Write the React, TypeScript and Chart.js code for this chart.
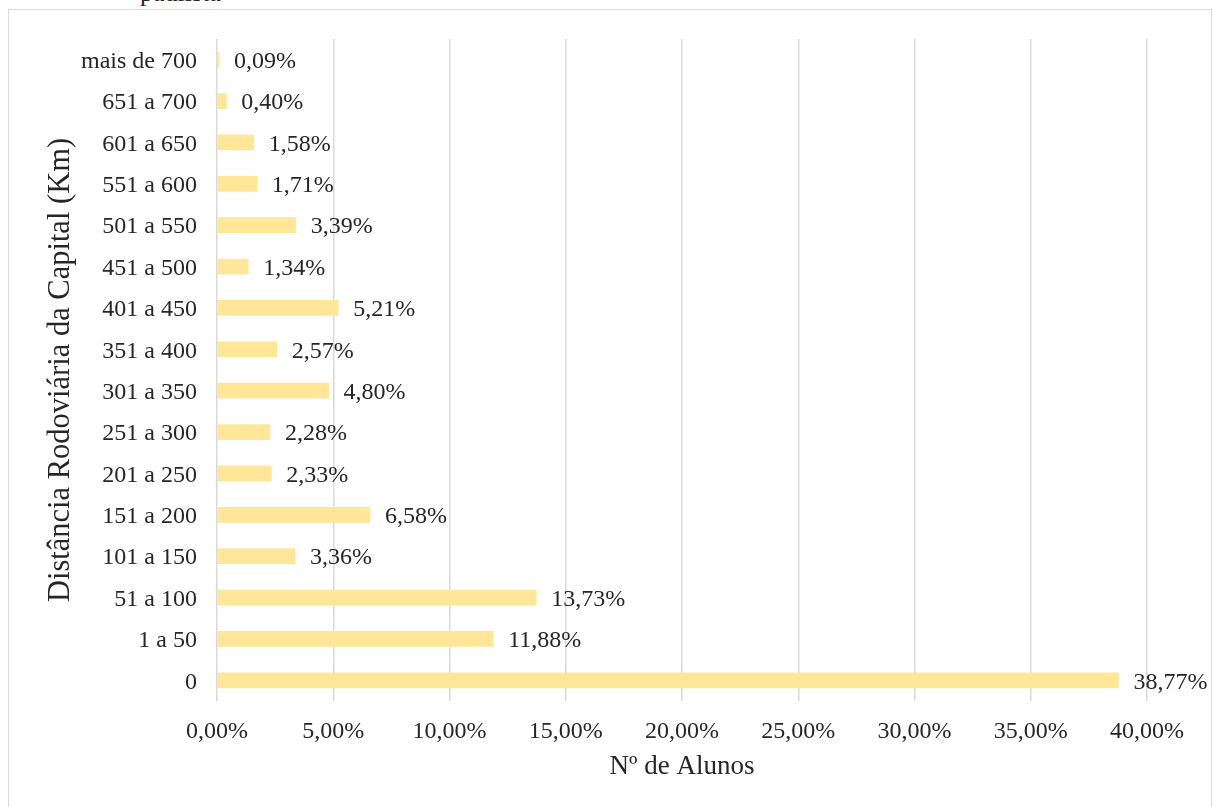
import React, { useEffect, useRef } from "react";
import { Chart, registerables } from "chart.js";

Chart.register(...registerables);

const categories: string[] = [
  "0",
  "1 a 50",
  "51 a 100",
  "101 a 150",
  "151 a 200",
  "201 a 250",
  "251 a 300",
  "301 a 350",
  "351 a 400",
  "401 a 450",
  "451 a 500",
  "501 a 550",
  "551 a 600",
  "601 a 650",
  "651 a 700",
  "mais de 700",
];

const percentAlunos: number[] = [
  38.77, 11.88, 13.73, 3.36, 6.58, 2.33, 2.28, 4.8, 2.57, 5.21, 1.34, 3.39, 1.71, 1.58, 0.4, 0.09,
];

const xTickMin = 0;
const xTickMax = 40;
const xTickStep = 5;

const xTitle = "Nº de Alunos";
const yTitle = "Distância Rodoviária da Capital (Km)";
const captionFragment = "paulista";

const FONT = '"Liberation Serif", "Times New Roman", serif';
const TEXT = "#262626";
const BAR = "#FFE699";
const GRID = "#d9d9d9";

const fmt = (v: number) => v.toFixed(2).replace(".", ",") + "%";

const valueLabels = {
  id: "valueLabels",
  afterDatasetsDraw(chart: any) {
    const ctx = chart.ctx;
    const meta = chart.getDatasetMeta(0);
    ctx.save();
    ctx.font = `24px ${FONT}`;
    ctx.fillStyle = TEXT;
    ctx.textAlign = "left";
    ctx.textBaseline = "middle";
    meta.data.forEach((bar: any, i: number) => {
      ctx.fillText(fmt(percentAlunos[i]), bar.x + 15, bar.y + 2);
    });
    ctx.restore();
  },
};

export default function App() {
  const ref = useRef<HTMLCanvasElement | null>(null);

  useEffect(() => {
    if (!ref.current) return;
    const chart = new Chart(ref.current, {
      type: "bar",
      data: {
        labels: categories,
        datasets: [
          {
            data: percentAlunos,
            backgroundColor: BAR,
            borderWidth: 0,
            barThickness: 15,
          },
        ],
      },
      options: {
        indexAxis: "y",
        animation: false,
        responsive: false,
        devicePixelRatio: 1,
        layout: { padding: { top: 39, right: 66, bottom: 0, left: 20 } },
        plugins: {
          legend: { display: false },
          tooltip: { enabled: false },
        },
        scales: {
          x: {
            min: xTickMin,
            max: xTickMax,
            grid: { color: GRID, lineWidth: 1.5, drawTicks: false },
            border: { display: false },
            ticks: {
              stepSize: xTickStep,
              padding: 16,
              color: TEXT,
              font: { family: FONT, size: 24 },
              callback: (v: any) => fmt(Number(v)),
            },
            title: {
              display: true,
              text: xTitle,
              color: TEXT,
              font: { family: FONT, size: 27 },
              padding: { top: 0, bottom: 24 },
            },
            afterFit: (scale: any) => {
              scale.height = 106;
            },
          },
          y: {
            reverse: true,
            grid: { display: false, drawTicks: false },
            border: { display: false },
            ticks: {
              padding: 20,
              labelOffset: 2,
              color: TEXT,
              font: { family: FONT, size: 24 },
            },
            title: {
              display: true,
              text: yTitle,
              color: TEXT,
              font: { family: FONT, size: 30.5 },
              padding: { top: 23, bottom: 0 },
            },
            afterFit: (scale: any) => {
              scale.width = 197;
            },
          },
        },
      },
      plugins: [valueLabels],
    });
    return () => chart.destroy();
  }, []);

  return (
    <div
      style={{
        position: "fixed",
        left: 0,
        top: 0,
        width: 1213,
        height: 807,
        overflow: "hidden",
        background: "#ffffff",
      }}
    >
      <div
        style={{
          position: "absolute",
          left: 140,
          top: -20,
          fontFamily: FONT,
          fontSize: 26,
          lineHeight: 1,
          color: TEXT,
          whiteSpace: "nowrap",
        }}
      >
        {captionFragment}
      </div>
      <div
        style={{
          position: "absolute",
          left: 8,
          top: 9,
          width: 1204,
          height: 830,
          boxSizing: "border-box",
          border: "1px solid #d9d9d9",
        }}
      />
      <canvas
        ref={ref}
        width={1213}
        height={807}
        style={{ position: "absolute", left: 0, top: 0, width: 1213, height: 807 }}
      />
    </div>
  );
}
